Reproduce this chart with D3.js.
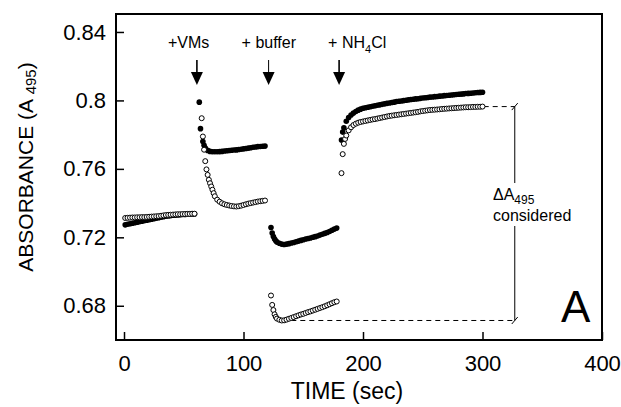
<!DOCTYPE html>
<html><head><meta charset="utf-8">
<script src="https://cdn.jsdelivr.net/npm/d3@7"></script>
<style>html,body{margin:0;padding:0;background:#fff;} svg{display:block;}</style>
</head><body>
<svg id="chart" width="621" height="407"></svg>
<script>
// ---------- DATA ----------
const xTicks = [0, 100, 200, 300, 400];
const yTicks = [0.68, 0.72, 0.76, 0.80, 0.84];
const yTickLabels = ["0.68", "0.72", "0.76", "0.8", "0.84"];

// filled circles: time (sec) and absorbance
const filledTime = [
  1,3,5,7,9,11,13,15,17,19,21,23,25,27,29,31,33,35,37,39,41,43,45,47,49,51,53,55,57,59,
  63,64,66,67,68,70,72,74,76,78,80,82,84,86,88,90,92,94,96,98,100,102,104,106,108,110,112,114,116,118,
  123,124,125,126,127,128,130,132,134,136,138,140,142,144,146,148,150,152,154,156,158,160,162,164,166,168,170,172,174,176,178,
  182,183,184,186,188,190,192,194,196,198,200,202,204,206,208,210,212,214,216,218,220,222,224,226,228,230,232,234,236,238,240,
  242,244,246,248,250,252,254,256,258,260,262,264,266,268,270,272,274,276,278,280,282,284,286,288,290,292,294,296,298,300
];
const filledValue = [
  0.7273,0.7276,0.7279,0.7282,0.7285,0.7288,0.7291,0.7294,0.7297,0.7300,0.7303,0.7306,0.7309,0.7312,0.7315,
  0.7318,0.7320,0.7323,0.7325,0.7327,0.7329,0.7330,0.7331,0.7332,0.7333,0.7334,0.7335,0.7335,0.7336,0.7336,
  0.7990,0.7835,0.7760,0.7738,0.7722,0.7708,0.7702,0.7700,0.7700,0.7700,0.7701,0.7702,0.7704,0.7706,0.7707,
  0.7709,0.7710,0.7711,0.7713,0.7715,0.7717,0.7719,0.7721,0.7723,0.7726,0.7728,0.7730,0.7731,0.7732,0.7733,
  0.7257,0.7225,0.7205,0.7190,0.7180,0.7172,0.7165,0.7160,0.7158,0.7160,0.7163,0.7167,0.7170,0.7174,0.7178,0.7182,
  0.7186,0.7190,0.7193,0.7196,0.7200,0.7204,0.7208,0.7213,0.7218,0.7223,0.7228,0.7234,0.7241,0.7248,0.7254,
  0.7769,0.7815,0.7840,0.7878,0.7900,0.7915,0.7926,0.7935,0.7943,0.7949,0.7954,0.7957,0.7960,0.7963,0.7966,0.7969,
  0.7972,0.7974,0.7977,0.7980,0.7983,0.7985,0.7988,0.7990,0.7993,0.7995,0.7997,0.7999,0.8001,0.8003,0.8005,
  0.8007,0.8009,0.8010,0.8012,0.8014,0.8016,0.8017,0.8019,0.8020,0.8022,0.8023,0.8025,0.8026,0.8028,0.8029,
  0.8030,0.8032,0.8033,0.8035,0.8036,0.8037,0.8038,0.8040,0.8041,0.8042,0.8043,0.8045,0.8046,0.8047,0.8048
];

// open circles: time (sec) and absorbance
const openTime = [
  1,3,5,7,9,11,13,15,17,19,21,23,25,27,29,31,33,35,37,39,41,43,45,47,49,51,53,55,57,59,
  65,66,67,68,69,70,71,72,73,74,75,76,78,80,82,84,86,88,90,92,94,96,98,100,102,104,106,108,110,112,114,116,118,
  123,124,125,126,127,128,130,132,134,136,138,140,142,144,146,148,150,152,154,156,158,160,162,164,166,168,170,172,174,176,178,
  182,183,184,185,186,188,190,192,194,196,198,200,202,204,206,208,210,212,214,216,218,220,222,224,226,228,230,232,234,236,238,240,
  242,244,246,248,250,252,254,256,258,260,262,264,266,268,270,272,274,276,278,280,282,284,286,288,290,292,294,296,298,300
];
const openValue = [
  0.7313,0.7314,0.7315,0.7316,0.7316,0.7317,0.7317,0.7318,0.7318,0.7319,0.7320,0.7321,0.7322,0.7323,0.7324,
  0.7326,0.7328,0.7330,0.7331,0.7332,0.7333,0.7334,0.7335,0.7335,0.7336,0.7336,0.7337,0.7337,0.7338,0.7338,
  0.7896,0.7789,0.7712,0.7645,0.7597,0.7565,0.7536,0.7516,0.7497,0.7478,0.7458,0.7440,
  0.7420,0.7408,0.7399,0.7393,0.7389,0.7386,0.7383,0.7381,0.7380,0.7382,0.7385,0.7389,0.7393,0.7397,0.7400,
  0.7403,0.7406,0.7409,0.7411,0.7413,0.7415,
  0.6860,0.6805,0.6775,0.6750,0.6735,0.6725,0.6718,0.6714,0.6715,0.6719,0.6724,0.6729,0.6734,0.6739,0.6744,0.6749,
  0.6753,0.6758,0.6763,0.6767,0.6772,0.6777,0.6782,0.6787,0.6792,0.6797,0.6803,0.6809,0.6815,0.6821,0.6825,
  0.7575,0.7686,0.7746,0.7775,0.7795,0.7825,0.7843,0.7856,0.7864,0.7870,0.7874,
  0.7877,0.7880,0.7883,0.7886,0.7889,0.7891,0.7894,0.7897,0.7900,0.7903,0.7906,0.7909,0.7911,0.7913,0.7915,
  0.7917,0.7919,0.7921,0.7923,0.7925,0.7927,0.7929,0.7931,0.7933,0.7936,0.7938,0.7940,0.7942,0.7944,0.7945,
  0.7946,0.7947,0.7948,0.7950,0.7951,0.7952,0.7953,0.7954,0.7955,0.7956,0.7957,0.7958,0.7959,0.7960,0.7960,
  0.7961,0.7962,0.7962,0.7963,0.7963,0.7964
];

// additions (arrows)
const additionTime = [61, 121, 180];
const additionLabel = ["+VMs", "+ buffer", "+ NH4Cl"];

// ΔA495 bracket
const deltaTopValue = 0.7964, deltaBottomValue = 0.6714;
const deltaTopStart = 301, deltaBottomStart = 140, deltaTime = 327;

// ---------- DRAW ----------
const FONT = "'Liberation Sans', Arial, Helvetica, sans-serif";
const svg = d3.select("#chart").style("font-family", FONT);
const L = 116, R = 602, T = 14, B = 340;
const x = d3.scaleLinear().domain([-6.7, 400]).range([L, R]);
const y = d3.scaleLinear().domain([0.66, 0.8505]).range([B, T]);

// axes
const xAxis = d3.axisBottom(x).tickValues(xTicks).tickFormat(d3.format("d"))
  .tickSize(-8).tickSizeOuter(0).tickPadding(15);
const gx = svg.append("g").attr("transform", `translate(0,${B})`).call(xAxis);
gx.select(".domain").remove();
gx.selectAll("line").attr("stroke", "#000").attr("stroke-width", 1.5);
gx.selectAll("text").attr("font-size", 22).attr("font-family", FONT).attr("fill", "#000");

const yAxis = d3.axisLeft(y).tickValues(yTicks).tickFormat((d, i) => yTickLabels[i])
  .tickSize(-8).tickSizeOuter(0).tickPadding(10);
const gy = svg.append("g").attr("transform", `translate(${L},0)`).call(yAxis);
gy.select(".domain").remove();
gy.selectAll("line").attr("stroke", "#000").attr("stroke-width", 1.5);
gy.selectAll("text").attr("font-size", 22).attr("font-family", FONT).attr("fill", "#000");

// frame
svg.append("rect").attr("x", L).attr("y", T).attr("width", R - L).attr("height", B - T)
  .attr("fill", "none").attr("stroke", "#000").attr("stroke-width", 2);

// axis titles
svg.append("text").attr("x", 347).attr("y", 399).attr("text-anchor", "middle")
  .attr("font-size", 23).text("TIME (sec)");
const yl = svg.append("text").attr("transform", "translate(33,167) rotate(-90)")
  .attr("text-anchor", "middle").attr("font-size", 21);
yl.append("tspan").text("ABSORBANCE (A ");
yl.append("tspan").attr("font-size", 15).attr("dy", 3).text("495");
yl.append("tspan").attr("dy", -3).text(")");

// bracket (drawn under data)
const br = svg.append("g").attr("stroke", "#000").attr("stroke-width", 1).attr("fill", "none");
br.append("line").attr("x1", x(deltaTopStart)).attr("x2", x(deltaTime))
  .attr("y1", y(deltaTopValue)).attr("y2", y(deltaTopValue)).attr("stroke-dasharray", "5,4");
br.append("line").attr("x1", x(deltaBottomStart)).attr("x2", x(deltaTime))
  .attr("y1", y(deltaBottomValue)).attr("y2", y(deltaBottomValue)).attr("stroke-dasharray", "5,4");
br.append("line").attr("x1", x(deltaTime)).attr("x2", x(deltaTime))
  .attr("y1", y(deltaTopValue)).attr("y2", 183);
br.append("line").attr("x1", x(deltaTime)).attr("x2", x(deltaTime))
  .attr("y1", 226).attr("y2", y(deltaBottomValue));
[deltaTopValue, deltaBottomValue].forEach(v => {
  br.append("line").attr("x1", x(deltaTime) - 3).attr("x2", x(deltaTime) + 3)
    .attr("y1", y(v) + 3.5).attr("y2", y(v) - 3.5);
});
const dl = svg.append("text").attr("x", 493).attr("y", 200).attr("font-size", 16);
dl.append("tspan").text("ΔA");
dl.append("tspan").attr("font-size", 12).attr("dy", 4).text("495");
svg.append("text").attr("x", 493).attr("y", 221).attr("font-size", 16).text("considered");

// data: filled then open
const filled = filledTime.map((t, i) => ({t, v: filledValue[i]}));
const open = openTime.map((t, i) => ({t, v: openValue[i]}));
svg.append("g").selectAll("circle").data(filled).join("circle")
  .attr("cx", d => x(d.t)).attr("cy", d => y(d.v)).attr("r", 2.8).attr("fill", "#000");
svg.append("g").selectAll("circle").data(open).join("circle")
  .attr("cx", d => x(d.t)).attr("cy", d => y(d.v)).attr("r", 2.5)
  .attr("fill", "#fff").attr("stroke", "#000").attr("stroke-width", 1);

// addition arrows and labels
const labelOffset = [-29, -27, -11];
additionTime.forEach((t, i) => {
  const ax = x(t);
  svg.append("line").attr("x1", ax).attr("x2", ax).attr("y1", 60).attr("y2", 73)
    .attr("stroke", "#000").attr("stroke-width", i === 1 ? 1 : 1.6);
  svg.append("path").attr("d", `M${ax - 6},72L${ax + 6},72L${ax},85Z`).attr("fill", "#000");
  const tx = svg.append("text").attr("x", ax + labelOffset[i]).attr("y", 48).attr("font-size", 16);
  if (additionLabel[i].includes("NH4")) {
    tx.append("tspan").text("+ NH");
    tx.append("tspan").attr("font-size", 11).attr("dy", 5).text("4");
    tx.append("tspan").attr("dy", -5).text("Cl");
  } else {
    tx.text(additionLabel[i]);
  }
});

// panel letter
svg.append("text").attr("x", 561).attr("y", 321.5).attr("font-size", 44).text("A");
</script>
</body></html>
